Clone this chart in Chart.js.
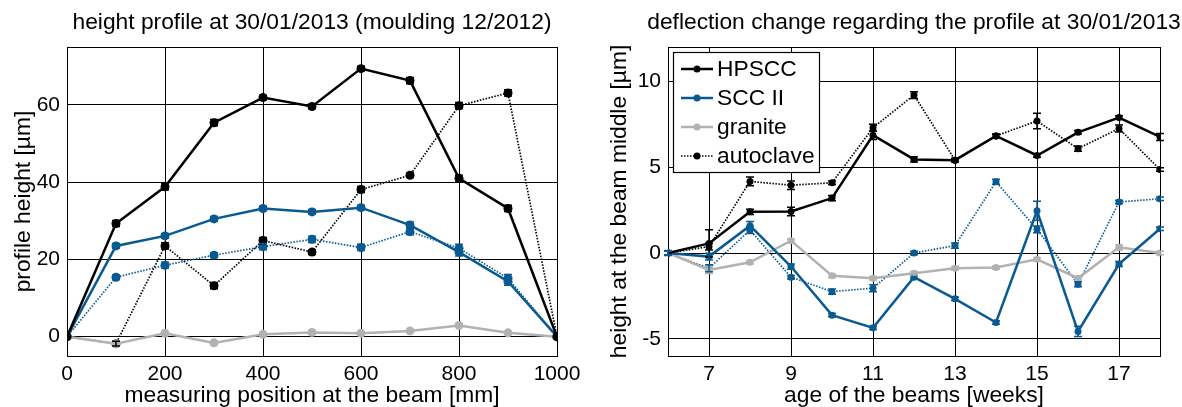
<!DOCTYPE html>
<html>
<head>
<meta charset="utf-8">
<script src="https://cdn.jsdelivr.net/npm/chart.js@4.4.1/dist/chart.umd.min.js"></script>
<style>
    html, body { margin: 0; padding: 0; background: #fff; overflow: hidden; }
    #wrap { position: relative; width: 1182px; height: 407px; }
    canvas { position: absolute; top: 0; }
</style>
</head>
<body>
<div id="wrap">
    <canvas id="chartProfile" width="590" height="407" style="left:0"></canvas>
    <canvas id="chartDeflection" width="592" height="407" style="left:590px"></canvas>
</div>
<script>
// --- DATOS: perfil de altura (izquierda) ---
const positions = [0, 100, 200, 300, 400, 500, 600, 700, 800, 900, 1000];
const profileHPSCC     = [0, 29.3, 38.8, 55.4, 61.9, 59.6, 69.4, 66.3, 41.0, 33.2, 0];
const profileHPSCCAuto = [0, -1.8, 23.5, 13.2, 24.9, 21.9, 38.1, 41.8, 59.8, 63.1, 0];
const profileSCC       = [0, 23.5, 26.1, 30.5, 33.2, 32.3, 33.4, 28.9, 21.9, 14.3, 0];
const profileSCCAuto   = [0, 15.4, 18.5, 21.1, 23.3, 25.2, 23.1, 27.2, 22.9, 15.1, 0];
const profileGranite   = [0, -1.8, 0.9, -1.6, 0.6, 1.1, 0.9, 1.5, 2.9, 1.0, 0];

const errHPSCC     = [0, 0.8, 0.8, 0.8, 0.6, 0.6, 0.6, 0.8, 0.8, 0.8, 0];
const errHPSCCAuto = [0, 0.6, 0.8, 0.8, 0.8, 0.6, 0.8, 0.6, 0.8, 0.8, 0];
const errSCC       = [0, 0.6, 0.6, 0.6, 0.6, 0.6, 0.6, 0.8, 1.0, 1.0, 0];
const errSCCAuto   = [0, 0.6, 0.8, 0.6, 0.8, 0.8, 0.8, 0.8, 1.0, 1.0, 0];
const errGranite   = [0, 0.3, 0.3, 0.3, 0.3, 0.3, 0.3, 0.3, 0.3, 0.3, 0];

const profileXTicks = [0, 200, 400, 600, 800, 1000];
const profileYTicks = [0, 20, 40, 60];

// --- DATOS: cambio de flecha (derecha) ---
const weeks = [6, 7, 8, 9, 10, 11, 12, 13, 14, 15, 16, 17, 18];
const deflHPSCC     = [0, 0.56, 2.40, 2.42, 3.20, 6.86, 5.45, 5.41, 6.82, 5.68, 7.03, 7.89, 6.76];
const deflHPSCCAuto = [0, 0.37, 4.17, 3.95, 4.09, 7.30, 9.20, 5.41, 6.82, 7.69, 6.08, 7.25, 4.86];
const deflSCC       = [0, -0.21, 1.59, -0.79, -3.62, -4.36, -1.41, -2.67, -4.05, 2.46, -4.57, -0.64, 1.41];
const deflSCCAuto   = [0, -0.89, 1.34, -1.41, -2.25, -2.05, 0, 0.43, 4.15, 1.38, -1.82, 2.97, 3.16];
const deflGranite   = [0, -0.99, -0.54, 0.72, -1.32, -1.47, -1.18, -0.89, -0.85, -0.37, -1.47, 0.33, 0];

const errDeflHPSCC     = [0, 0.8, 0.15, 0.25, 0.15, 0.25, 0.15, 0.1, 0.1, 0.1, 0.1, 0.1, 0.2];
const errDeflHPSCCAuto = [0, 0.2, 0.25, 0.25, 0.1, 0.2, 0.2, 0.1, 0.1, 0.45, 0.15, 0.2, 0.1];
const errDeflSCC       = [0.15, 0.2, 0.25, 0.15, 0.1, 0.1, 0.1, 0.1, 0.1, 0.55, 0.3, 0.15, 0.1];
const errDeflSCCAuto   = [0.1, 0.2, 0.2, 0.1, 0.15, 0.2, 0.1, 0.15, 0.15, 0.2, 0.15, 0.1, 0.1];
const errDeflGranite   = [0, 0.2, 0.1, 0.1, 0.1, 0.1, 0.1, 0.1, 0.1, 0.1, 0.1, 0.15, 0.1];

const deflXTicks = [7, 9, 11, 13, 15, 17];
const deflYTicks = [-5, 0, 5, 10];

const legendLabels = ['HPSCC', 'SCC II', 'granite', 'autoclave'];

// Colores y fuente
const BLACK = '#000000';
const BLUE = '#0a5a92';
const GREY = '#b2b2b2';
const FONT = "'Liberation Sans', Arial, Helvetica, sans-serif";
const TEXT_SIZE = 22.8;

function puntos(xs, ys) {
    return xs.map((x, i) => ({ x: x, y: ys[i] }));
}

// Plugin: título centrado sobre el área del gráfico
const plotTitlePlugin = {
    id: 'plotTitle',
    afterDraw(chart, args, opts) {
        const ctx = chart.ctx;
        const area = chart.chartArea;
        ctx.save();
        ctx.font = opts.size + 'px ' + FONT;
        ctx.fillStyle = '#000';
        ctx.textAlign = 'center';
        ctx.textBaseline = 'alphabetic';
        ctx.fillText(opts.text, (area.left + area.right) / 2 + (opts.dx || 0), opts.y);
        ctx.restore();
    }
};

// Plugin: marco negro completo alrededor del área
const framePlugin = {
    id: 'frame',
    beforeDatasetsDraw(chart) {
        const ctx = chart.ctx;
        const a = chart.chartArea;
        ctx.save();
        ctx.strokeStyle = '#000';
        ctx.lineWidth = 1;
        ctx.strokeRect(Math.round(a.left) + 0.5, Math.round(a.top) + 0.5,
                       Math.round(a.right - a.left), Math.round(a.bottom - a.top));
        ctx.restore();
    }
};

// Plugin: barras de error a partir de ds.errors
const errorBarPlugin = {
    id: 'errorBars',
    afterDatasetsDraw(chart) {
        const ctx = chart.ctx;
        const yScale = chart.scales.y;
        chart.data.datasets.forEach((ds, i) => {
            if (!ds.errors) return;
            const meta = chart.getDatasetMeta(i);
            ctx.save();
            ctx.strokeStyle = ds.borderColor;
            ctx.lineWidth = 1.5;
            meta.data.forEach((pt, j) => {
                const e = ds.errors[j];
                if (!e) return;
                const v = ds.data[j].y;
                const yTop = yScale.getPixelForValue(v + e);
                const yBot = yScale.getPixelForValue(v - e);
                const cap = 4;
                ctx.beginPath();
                ctx.moveTo(pt.x, yTop); ctx.lineTo(pt.x, yBot);
                ctx.moveTo(pt.x - cap, yTop); ctx.lineTo(pt.x + cap, yTop);
                ctx.moveTo(pt.x - cap, yBot); ctx.lineTo(pt.x + cap, yBot);
                ctx.stroke();
            });
            ctx.restore();
        });
    }
};

// Plugin: leyenda dentro del área (solo gráfico derecho)
const boxLegendPlugin = {
    id: 'boxLegend',
    afterDraw(chart, args, opts) {
        if (!opts.show) return;
        const ctx = chart.ctx;
        ctx.save();
        ctx.fillStyle = '#fff';
        ctx.fillRect(opts.x, opts.y, opts.w, opts.h);
        ctx.strokeStyle = '#000';
        ctx.lineWidth = 1.2;
        ctx.strokeRect(opts.x + 0.5, opts.y + 0.5, opts.w, opts.h);
        ctx.font = TEXT_SIZE + 'px ' + FONT;
        ctx.textBaseline = 'middle';
        ctx.textAlign = 'left';
        legendLabels.forEach((label, k) => {
            const ds = chart.data.datasets.find(d => d.label === label);
            const cy = opts.y + opts.firstRow + k * opts.rowGap;
            const x0 = opts.x + 8, x1 = opts.x + 40;
            ctx.strokeStyle = ds.borderColor;
            ctx.lineWidth = ds.borderWidth;
            ctx.setLineDash(ds.borderDash || []);
            ctx.beginPath();
            ctx.moveTo(x0, cy); ctx.lineTo(x1, cy);
            ctx.stroke();
            ctx.setLineDash([]);
            ctx.fillStyle = ds.borderColor;
            ctx.beginPath();
            ctx.arc((x0 + x1) / 2, cy, 3.5, 0, Math.PI * 2);
            ctx.fill();
            ctx.fillStyle = '#000';
            ctx.fillText(label, opts.x + 44, cy + 1);
        });
        ctx.restore();
    }
};

function serie(label, xs, ys, errs, color, dashed, radius) {
    return {
        label: label,
        data: puntos(xs, ys),
        errors: errs,
        borderColor: color,
        backgroundColor: color,
        borderWidth: dashed ? 1.7 : 2.5,
        borderDash: dashed ? [1.5, 1.5] : [],
        pointRadius: radius,
        pointBorderWidth: 0,
        pointBackgroundColor: color,
        tension: 0,
        fill: false
    };
}

function ejes(xMin, xMax, xTicks, yMin, yMax, yTicks, xTitle, yTitle, yWidth, yTitlePad) {
    const tickFont = { family: FONT, size: 21 };
    const titleFont = { family: FONT, size: TEXT_SIZE, lineHeight: 1 };
    return {
        x: {
            type: 'linear',
            min: xMin, max: xMax,
            afterBuildTicks: s => { s.ticks = xTicks.map(v => ({ value: v })); },
            afterFit: s => { s.height = 51; },
            grid: { color: '#000', lineWidth: 1, drawTicks: false },
            border: { color: '#000', width: 1 },
            ticks: { color: '#000', font: tickFont, padding: 6, maxRotation: 0, autoSkip: false,
                     callback: v => String(v) },
            title: { display: true, text: xTitle, color: '#000', font: titleFont, padding: { top: 0, bottom: 0 } }
        },
        y: {
            type: 'linear',
            min: yMin, max: yMax,
            afterBuildTicks: s => { s.ticks = yTicks.map(v => ({ value: v })); },
            afterFit: s => { s.width = yWidth; },
            grid: { color: '#000', lineWidth: 1, drawTicks: false },
            border: { color: '#000', width: 1 },
            ticks: { color: '#000', font: tickFont, padding: 7, autoSkip: false,
                     callback: v => String(v) },
            title: { display: true, text: yTitle, color: '#000', font: titleFont, padding: { top: yTitlePad, bottom: 0 } }
        }
    };
}

function inicializarGraficos() {
    // --- GRÁFICO 1: PERFIL DE ALTURA ---
    new Chart(document.getElementById('chartProfile').getContext('2d'), {
        type: 'line',
        data: {
            datasets: [
                serie('HPSCC', positions, profileHPSCC, errHPSCC, BLACK, false, 4.5),
                serie('SCC II', positions, profileSCC, errSCC, BLUE, false, 4.5),
                serie('granite', positions, profileGranite, errGranite, GREY, false, 4.5),
                serie('autoclave', positions, profileHPSCCAuto, errHPSCCAuto, BLACK, true, 4.5),
                serie('SCC II autoclave', positions, profileSCCAuto, errSCCAuto, BLUE, true, 4.5)
            ]
        },
        options: {
            responsive: false,
            animation: false,
            layout: { padding: { left: 0, right: 33, top: 47, bottom: 0 } },
            scales: ejes(0, 1000, profileXTicks, -5, 75, profileYTicks,
                'measuring position at the beam [mm]', 'profile height [µm]', 67, 12),
            plugins: {
                legend: { display: false },
                tooltip: { enabled: false },
                plotTitle: { text: 'height profile at 30/01/2013 (moulding 12/2012)', size: TEXT_SIZE, y: 29 },
                boxLegend: { show: false }
            }
        },
        plugins: [framePlugin, errorBarPlugin, plotTitlePlugin, boxLegendPlugin]
    });

    // --- GRÁFICO 2: CAMBIO DE FLECHA ---
    new Chart(document.getElementById('chartDeflection').getContext('2d'), {
        type: 'line',
        data: {
            datasets: [
                serie('HPSCC', weeks, deflHPSCC, errDeflHPSCC, BLACK, false, 3.5),
                serie('SCC II', weeks, deflSCC, errDeflSCC, BLUE, false, 3.5),
                serie('granite', weeks, deflGranite, errDeflGranite, GREY, false, 3.5),
                serie('autoclave', weeks, deflHPSCCAuto, errDeflHPSCCAuto, BLACK, true, 3.5),
                serie('SCC II autoclave', weeks, deflSCCAuto, errDeflSCCAuto, BLUE, true, 3.5)
            ]
        },
        options: {
            responsive: false,
            animation: false,
            layout: { padding: { left: 0, right: 22, top: 47, bottom: 0 } },
            scales: ejes(6, 18, deflXTicks, -6, 12, deflYTicks,
                'age of the beams [weeks]', 'height at the beam middle [µm]', 78, 18),
            plugins: {
                legend: { display: false },
                tooltip: { enabled: false },
                plotTitle: { text: 'deflection change regarding the profile at 30/01/2013', size: TEXT_SIZE, y: 29 },
                boxLegend: { show: true, x: 83, y: 52, w: 146, h: 120, firstRow: 17, rowGap: 29 }
            }
        },
        plugins: [framePlugin, errorBarPlugin, plotTitlePlugin, boxLegendPlugin]
    });
}

inicializarGraficos();
</script>
</body>
</html>
